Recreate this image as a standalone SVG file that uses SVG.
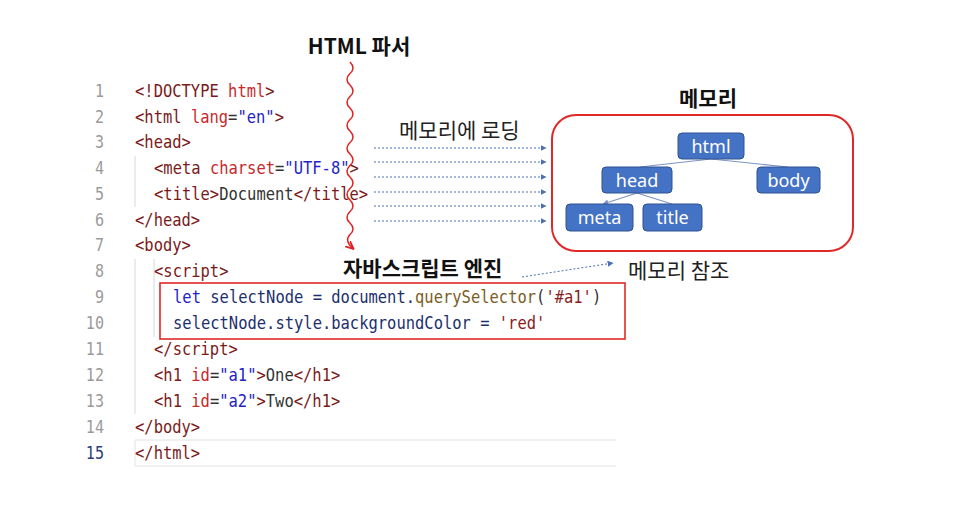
<svg xmlns="http://www.w3.org/2000/svg" width="964" height="508" viewBox="0 0 964 508" xml:space="preserve">
<style>
.ln{font-family:"DejaVu Sans Mono","Liberation Mono",monospace;font-size:17.5px;fill:#9a9a9a;text-anchor:end}
.code{font-family:"DejaVu Sans Mono","Liberation Mono",monospace;font-size:18px;fill:#333}
.tg{fill:#7a1a1a}.at{fill:#c8282d}.vl{fill:#2323c8}.kw{fill:#2323c8}.id{fill:#1c2f6e}.fn{fill:#7a5e26}.st{fill:#8a1c1c}.tx{fill:#333}
.ko{font-family:"Noto Sans CJK KR","Noto Sans",sans-serif;font-size:21px;fill:#222}
.kob{font-family:"Noto Sans CJK KR","Noto Sans",sans-serif;font-size:21px;font-weight:bold;fill:#111}
.node rect{fill:#4472c4;stroke:#2f528f;stroke-width:1}
.node text{font-family:"Noto Sans","Noto Sans CJK KR",sans-serif;font-size:18px;fill:#fff;text-anchor:middle}
.guide{stroke:#d8d8d8;stroke-width:1}
.dot{stroke:#4a6fb5;stroke-width:1;stroke-dasharray:2 2;fill:none}
.tree{stroke:#7d93c7;stroke-width:1.2;fill:none}
</style>
<defs>
<marker id="ab" viewBox="0 0 10 10" refX="9" refY="5" markerWidth="6" markerHeight="6" orient="auto"><path d="M0,0 L10,5 L0,10 z" fill="#4a6fb5"/></marker>
<marker id="ar" viewBox="0 0 10 10" refX="8" refY="5" markerWidth="6" markerHeight="6" orient="auto"><path d="M0,1 L9,5 L0,9" fill="none" stroke="#e02020" stroke-width="2"/></marker>
<marker id="at" viewBox="0 0 10 10" refX="9" refY="5" markerWidth="5" markerHeight="5" orient="auto"><path d="M0,0 L10,5 L0,10 z" fill="#7d93c7"/></marker>
</defs>
<rect width="964" height="508" fill="#fff"/>

<g id="editor">
<line class="guide" x1="135" y1="156" x2="135" y2="207"/>
<line class="guide" x1="135" y1="259" x2="135" y2="414"/>
<line class="guide" x1="154" y1="259" x2="154" y2="337"/>
<line x1="135" y1="440" x2="616" y2="440" stroke="#e2e2e2"/>
<line x1="135" y1="466" x2="616" y2="466" stroke="#e2e2e2"/>
<line x1="135" y1="440" x2="135" y2="466" stroke="#e2e2e2"/>
<g transform="matrix(0.86,0,0,1,0,0)">
<text class="ln" x="120.9" y="97">1</text>
<text class="ln" x="120.9" y="123">2</text>
<text class="ln" x="120.9" y="148">3</text>
<text class="ln" x="120.9" y="174">4</text>
<text class="ln" x="120.9" y="200">5</text>
<text class="ln" x="120.9" y="226">6</text>
<text class="ln" x="120.9" y="251">7</text>
<text class="ln" x="120.9" y="277">8</text>
<text class="ln" x="120.9" y="303">9</text>
<text class="ln" x="120.9" y="329">10</text>
<text class="ln" x="120.9" y="355">11</text>
<text class="ln" x="120.9" y="381">12</text>
<text class="ln" x="120.9" y="407">13</text>
<text class="ln" x="120.9" y="433">14</text>
<text class="ln" x="120.9" y="459" style="fill:#2a3c7c">15</text>

<text class="code" x="157" y="97"><tspan class="tg">&lt;!DOCTYPE </tspan><tspan class="at">html</tspan><tspan class="tg">&gt;</tspan></text>
<text class="code" x="157" y="123"><tspan class="tg">&lt;html </tspan><tspan class="at">lang</tspan><tspan class="tx">=</tspan><tspan class="vl">"en"</tspan><tspan class="tg">&gt;</tspan></text>
<text class="code" x="157" y="148"><tspan class="tg">&lt;head&gt;</tspan></text>
<text class="code" x="179.1" y="174"><tspan class="tg">&lt;meta </tspan><tspan class="at">charset</tspan><tspan class="tx">=</tspan><tspan class="vl">"UTF-8"</tspan><tspan class="tg">&gt;</tspan></text>
<text class="code" x="179.1" y="200"><tspan class="tg">&lt;title&gt;</tspan><tspan class="tx">Document</tspan><tspan class="tg">&lt;/title&gt;</tspan></text>
<text class="code" x="157" y="226"><tspan class="tg">&lt;/head&gt;</tspan></text>
<text class="code" x="157" y="251"><tspan class="tg">&lt;body&gt;</tspan></text>
<text class="code" x="179.1" y="277"><tspan class="tg">&lt;script&gt;</tspan></text>
<text class="code" x="201.2" y="303"><tspan class="kw">let</tspan><tspan class="id"> selectNode = document.</tspan><tspan class="fn">querySelector</tspan><tspan class="tx">(</tspan><tspan class="st">'#a1'</tspan><tspan class="tx">)</tspan></text>
<text class="code" x="201.2" y="329"><tspan class="id">selectNode.style.backgroundColor = </tspan><tspan class="st">'red'</tspan></text>
<text class="code" x="179.1" y="355"><tspan class="tg">&lt;/script&gt;</tspan></text>
<text class="code" x="179.1" y="381"><tspan class="tg">&lt;h1 </tspan><tspan class="at">id</tspan><tspan class="tx">=</tspan><tspan class="vl">"a1"</tspan><tspan class="tg">&gt;</tspan><tspan class="tx">One</tspan><tspan class="tg">&lt;/h1&gt;</tspan></text>
<text class="code" x="179.1" y="407"><tspan class="tg">&lt;h1 </tspan><tspan class="at">id</tspan><tspan class="tx">=</tspan><tspan class="vl">"a2"</tspan><tspan class="tg">&gt;</tspan><tspan class="tx">Two</tspan><tspan class="tg">&lt;/h1&gt;</tspan></text>
<text class="code" x="157" y="433"><tspan class="tg">&lt;/body&gt;</tspan></text>
<text class="code" x="157" y="459"><tspan class="tg">&lt;/html&gt;</tspan></text>
</g>
</g>

<g id="script-box">
<rect x="160" y="283" width="465" height="56" fill="none" stroke="#e02828" stroke-width="1.6"/>
</g>

<g id="html-parser">
<text class="kob" x="359" y="54" text-anchor="middle">HTML 파서</text>
<path d="M350,62 q6,6 0,11.5 q-6,6 0,11.5 q6,6 0,11.5 q-6,6 0,11.5 q6,6 0,11.5 q-6,6 0,11.5 q6,6 0,11.5 q-6,6 0,11.5 q6,6 0,11.5 q-6,6 0,11.5 q6,6 0,11.5 q-6,6 0,11.5 q6,6 0,11.5 q-6,6 0,11.5 q6,6 0,11.5 q-6,6 3,14" fill="none" stroke="#e02020" stroke-width="1.5" marker-end="url(#ar)"/>
</g>

<g id="js-engine">
<text class="kob" x="343" y="276">자바스크립트 엔진</text>
</g>

<g id="memory">
<text class="kob" x="708" y="106" text-anchor="middle">메모리</text>
<rect x="552" y="115" width="301" height="136" rx="24" fill="none" stroke="#e02828" stroke-width="2"/>
</g>

<g id="connectors">
<text class="ko" x="399" y="138">메모리에 로딩</text>
<line class="dot" x1="374" y1="148" x2="546" y2="148" marker-end="url(#ab)"/>
<line class="dot" x1="374" y1="162" x2="546" y2="162" marker-end="url(#ab)"/>
<line class="dot" x1="374" y1="177" x2="546" y2="177" marker-end="url(#ab)"/>
<line class="dot" x1="374" y1="192" x2="546" y2="192" marker-end="url(#ab)"/>
<line class="dot" x1="374" y1="206" x2="546" y2="206" marker-end="url(#ab)"/>
<line class="dot" x1="374" y1="221" x2="546" y2="221" marker-end="url(#ab)"/>
<line class="dot" x1="522" y1="277" x2="613" y2="263" marker-end="url(#ab)"/>
<text class="ko" x="628" y="278">메모리 참조</text>
<line class="tree" x1="711" y1="159" x2="640" y2="167"/>
<line class="tree" x1="711" y1="159" x2="788" y2="167"/>
<line class="tree" x1="637" y1="193" x2="603" y2="204" marker-end="url(#at)"/>
<line class="tree" x1="637" y1="193" x2="672" y2="204"/>
</g>

<g id="node-html" class="node"><rect x="678" y="133" width="66" height="26" rx="4"/><text x="711" y="152.5">html</text></g>
<g id="node-head" class="node"><rect x="602" y="167" width="70" height="26" rx="4"/><text x="637" y="186.5">head</text></g>
<g id="node-body" class="node"><rect x="757" y="167" width="63" height="26" rx="4"/><text x="788.5" y="186.5">body</text></g>
<g id="node-meta" class="node"><rect x="566" y="204" width="67" height="27" rx="4"/><text x="599.5" y="224">meta</text></g>
<g id="node-title" class="node"><rect x="643" y="204" width="59" height="27" rx="4"/><text x="672.5" y="224">title</text></g>
</svg>
